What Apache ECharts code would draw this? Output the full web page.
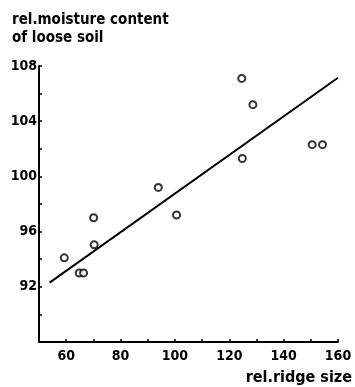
<!DOCTYPE html>
<html>
<head>
<meta charset="utf-8">
<script src="https://cdn.jsdelivr.net/npm/echarts@6/dist/echarts.min.js"></script>
<style>
  html, body { margin: 0; padding: 0; background: #fff; }
  #chart { width: 355px; height: 387px; }
</style>
</head>
<body>
<div id="chart"></div>
<script>
// measured points: [ridge size, moisture content]
const points = [
  [59.3, 94.1], [64.8, 93.0], [66.4, 93.0], [70.1, 97.0], [70.3, 95.05],
  [93.9, 99.2], [100.6, 97.2], [124.6, 107.1], [128.7, 105.2],
  [124.8, 101.3], [150.5, 102.3], [154.3, 102.3]
];
// fitted line end points
const fitLine = [[53.9, 92.3], [160, 107.15]];
const xLabels = [60, 80, 100, 120, 140, 160];
const yLabels = [92, 96, 100, 104, 108];

const font = "DejaVu Sans Condensed";
const chart = echarts.init(document.getElementById("chart"));
chart.setOption({
  animation: false,
  grid: { left: 39, right: 17, top: 66, bottom: 45 },
  xAxis: {
    type: "value",
    min: 50,
    max: 160,
    interval: 10,
    splitLine: { show: false },
    axisLine: { lineStyle: { color: "#000", width: 2 } },
    axisTick: { inside: true, length: 3, lineStyle: { color: "#000", width: 1.5 } },
    axisLabel: {
      color: "#000",
      fontFamily: font,
      fontWeight: "bold",
      fontSize: 14,
      margin: 7,
      formatter: (v) => (xLabels.includes(v) ? String(v) : ""),
    },
  },
  yAxis: {
    type: "value",
    min: 88,
    max: 108,
    interval: 2,
    splitLine: { show: false },
    axisLine: { lineStyle: { color: "#000", width: 2 } },
    axisTick: { inside: true, length: 3, lineStyle: { color: "#000", width: 1.5 } },
    axisLabel: {
      color: "#000",
      fontFamily: font,
      fontWeight: "bold",
      fontSize: 14,
      margin: 2,
      formatter: (v) => (yLabels.includes(v) ? String(v) : ""),
    },
  },
  graphic: [
    {
      type: "text",
      left: 12,
      top: 11,
      style: {
        text: "rel.moisture content\nof loose soil",
        fill: "#000",
        font: "bold 15px '" + font + "'",
        lineHeight: 18,
      },
    },
    {
      type: "text",
      right: 3,
      top: 370,
      style: { text: "rel.ridge size", fill: "#000", font: "bold 16px '" + font + "'" },
    },
  ],
  series: [
    {
      type: "line",
      data: fitLine,
      symbol: "none",
      lineStyle: { color: "#000", width: 2 },
    },
    {
      type: "scatter",
      data: points,
      symbol: "circle",
      symbolSize: 7,
      itemStyle: { color: "#fff", borderColor: "#000", borderWidth: 2 },
    },
  ],
});
</script>
</body>
</html>
